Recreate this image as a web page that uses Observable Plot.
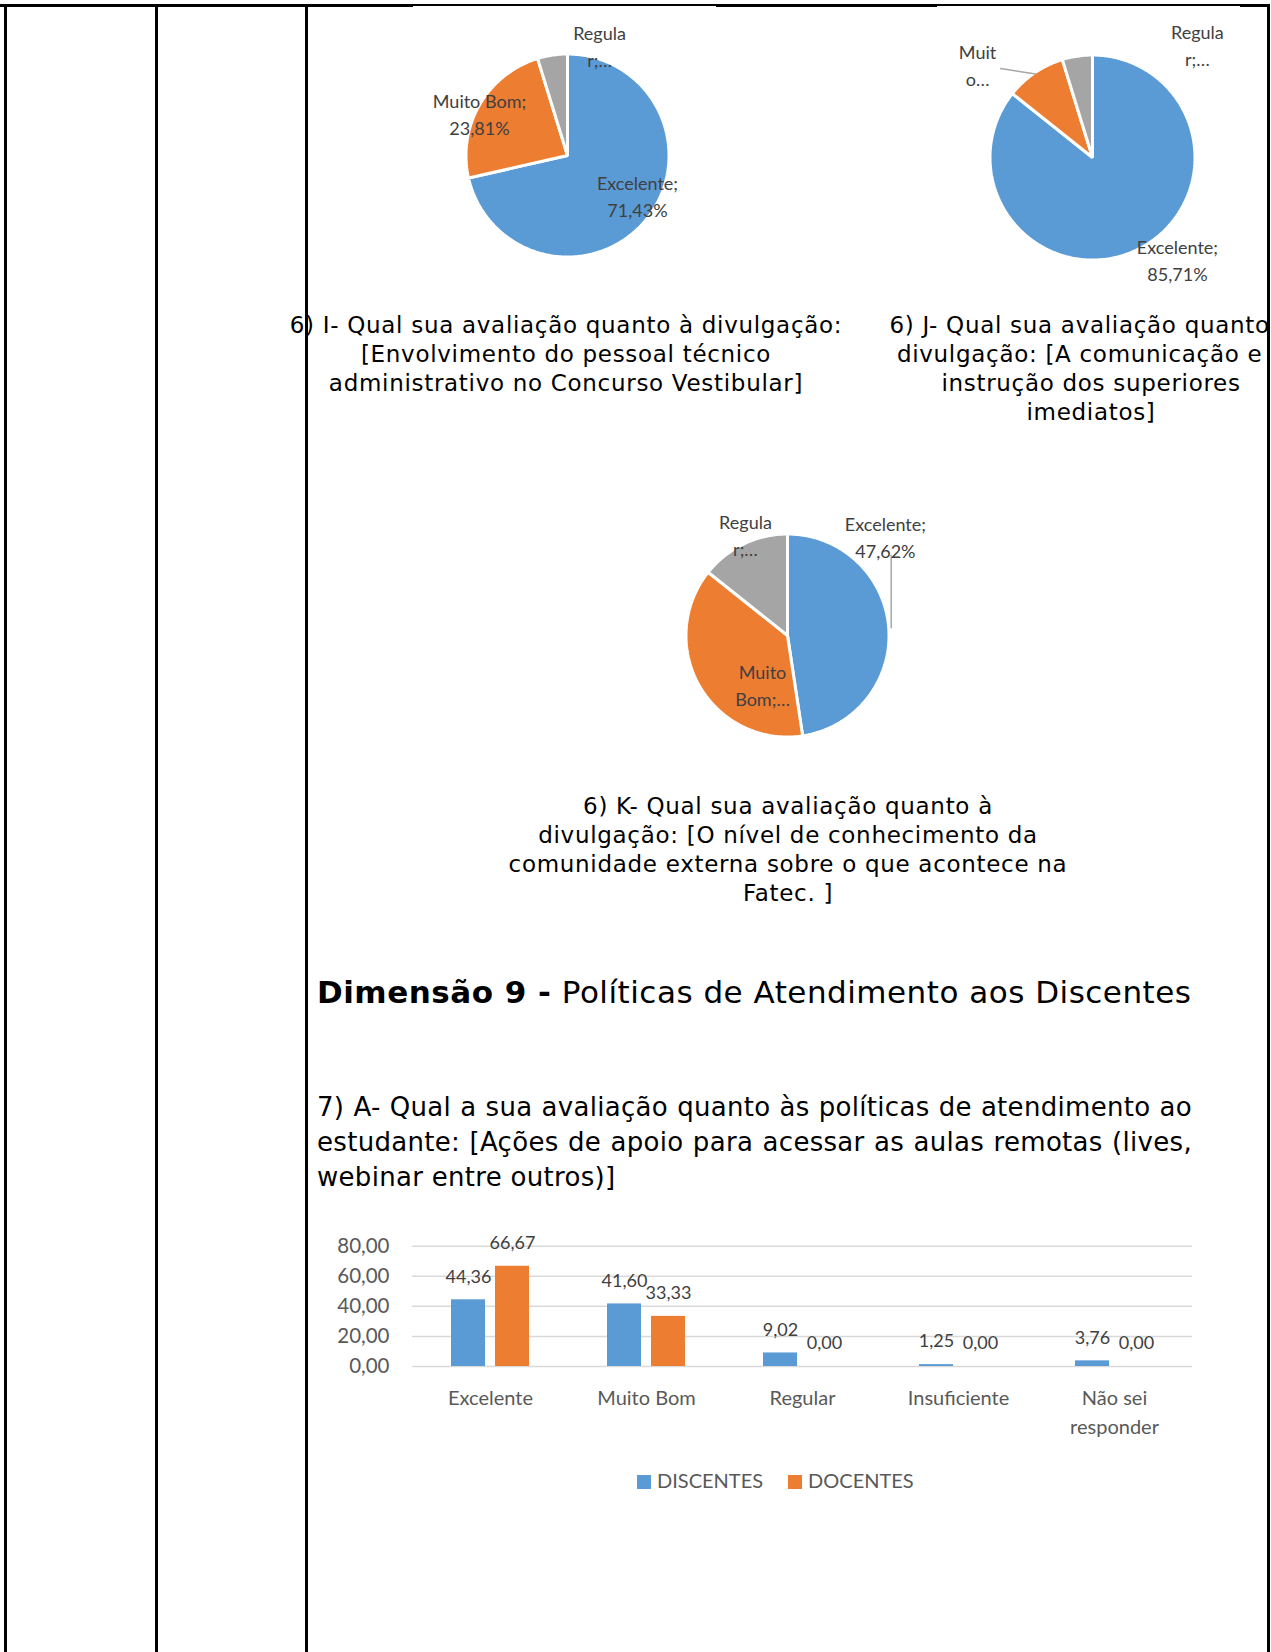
<!DOCTYPE html>
<html>
<head>
<meta charset="utf-8">
<script src="https://cdn.jsdelivr.net/npm/d3@7"></script>
<script src="https://cdn.jsdelivr.net/npm/@observablehq/plot@0.6"></script>
<style>
  html, body { margin: 0; padding: 0; background: #fff; }
  #page { position: relative; width: 1271px; height: 1652px; overflow: hidden; background: #fff; }
  .ln { position: absolute; background: #000; }
  .doc { position: absolute; font-family: "DejaVu Sans", Verdana, sans-serif; color: #000; white-space: nowrap; }
  .cap { font-size: 23px; letter-spacing: 0.7px; line-height: 29px; text-align: center; width: 640px; }
  .abs { position: absolute; }
  .abs svg { overflow: visible; }
  #legend { position: absolute; left: 637px; top: 1467px; font-family: Lato, sans-serif; font-size: 20px; color: #595959; white-space: nowrap; line-height: 26px; }
  #legend span.sw { display: inline-block; width: 14px; height: 14px; vertical-align: -1px; margin-right: 6px; }
  #para { font-size: 26px; letter-spacing: 0.3px; line-height: 35px; }
  #para span { display: block; text-align: justify; text-align-last: justify; white-space: nowrap; }
  #para span.last { text-align-last: left; }
</style>
</head>
<body>
<div id="page">
  <!-- table borders -->
  <div class="ln" style="left:0;top:4px;width:1270px;height:2px"></div>
  <div class="ln" style="left:0;top:4px;width:413px;height:3px"></div>
  <div class="ln" style="left:716px;top:4px;width:221px;height:3px"></div>
  <div class="ln" style="left:1240px;top:4px;width:30px;height:3px"></div>
  <div class="ln" style="left:4px;top:4px;width:3px;height:1648px"></div>
  <div class="ln" style="left:155px;top:4px;width:3px;height:1648px"></div>
  <div class="ln" style="left:305px;top:4px;width:3px;height:1648px"></div>

  <div id="pieI" class="abs" style="left:417px;top:5px"></div>
  <div id="pieJ" class="abs" style="left:942px;top:7px"></div>
  <div id="pieK" class="abs" style="left:637px;top:485px"></div>

  <div class="doc cap" style="left:246px;top:311px">6) I- Qual sua avaliação quanto à divulgação:<br>[Envolvimento do pessoal técnico<br>administrativo no Concurso Vestibular]</div>
  <div class="doc cap" style="left:771px;top:311px;clip-path:inset(0 144px 0 0)">6) J- Qual sua avaliação quanto à<br>divulgação: [A comunicação e a<br>instrução dos superiores<br>imediatos]</div>
  <div class="doc cap" style="left:468px;top:792px">6) K- Qual sua avaliação quanto à<br>divulgação: [O nível de conhecimento da<br>comunidade externa sobre o que acontece na<br>Fatec. ]</div>

  <div class="doc" style="left:317px;top:972px;font-size:31px;letter-spacing:0.5px;line-height:40px"><b>Dimensão 9 -</b> Políticas de Atendimento aos Discentes</div>

  <div id="para" class="doc" style="left:317px;top:1090px;width:875px;white-space:normal">
    <span>7) A- Qual a sua avaliação quanto às políticas de atendimento ao</span>
    <span>estudante: [Ações de apoio para acessar as aulas remotas (lives,</span>
    <span class="last">webinar entre outros)]</span>
  </div>

  <div id="bars" class="abs" style="left:300px;top:1225px"></div>
  <div id="legend"></div>

  <div class="ln" style="left:1267px;top:4px;width:3px;height:1648px"></div>
</div>
<script>
// ---------- data ----------
const pieCats = ["Excelente", "Muito Bom", "Regular"];
const pieColors = ["#5B9BD5", "#ED7D31", "#A5A5A5"];

const pieIValues = [71.43, 23.81, 4.76];
const pieJValues = [85.71, 9.52, 4.76];
const pieKValues = [47.62, 38.10, 14.29];

const pieILabels = ["Excelente;\n71,43%", "Muito Bom;\n23,81%", "Regula\nr;…"];
const pieJLabels = ["Excelente;\n85,71%", "Muit\no…", "Regula\nr;…"];
const pieKLabels = ["Excelente;\n47,62%", "Muito\nBom;…", "Regula\nr;…"];

const barCats = ["Excelente", "Muito Bom", "Regular", "Insuficiente", "Não sei responder"];
const barSeries = ["DISCENTES", "DOCENTES"];
const discentes = [44.36, 41.60, 9.02, 1.25, 3.76];
const docentes = [66.67, 33.33, 0.00, 0.00, 0.00];
const yTicks = [0, 20, 40, 60, 80];
const barColors = ["#5B9BD5", "#ED7D31"];

// ---------- helpers ----------
const rad = d => d * Math.PI / 180;
const polar = (angDeg, r) => ({x: r * Math.sin(rad(angDeg)), y: r * Math.cos(rad(angDeg))});
const comma = (v, n) => v.toFixed(n).replace(".", ",");

function drawPie(el, values, labels, R, labelLayout, leaders) {
  const total = d3.sum(values);
  let acc = 0;
  const slices = values.map((v, i) => {
    const a0 = acc / total * 360; acc += v; const a1 = acc / total * 360;
    return {cat: pieCats[i], a0, a1, mid: (a0 + a1) / 2};
  });
  const pts = slices.flatMap(s => {
    const n = Math.max(2, Math.ceil((s.a1 - s.a0) / 1));
    const arr = [{cat: s.cat, x: 0, y: 0}];
    for (let k = 0; k <= n; k++) {
      const p = polar(s.a0 + (s.a1 - s.a0) * k / n, R);
      arr.push({cat: s.cat, x: p.x, y: p.y});
    }
    return arr;
  });
  const labelData = slices.map((s, i) => {
    const [ang, r] = labelLayout[i];
    const p = polar(ang, r);
    return {x: p.x, y: p.y, text: labels[i]};
  });
  const leaderData = leaders.flatMap(([i, r0, ang1, r1, vertical]) => {
    const s = slices[i];
    const a = polar(s.mid, r0);
    const b = polar(ang1, r1);
    return [{id: i, x: a.x, y: a.y}, {id: i, x: vertical ? a.x : b.x, y: b.y}];
  });
  const chart = Plot.plot({
    width: 300, height: 300, margin: 0,
    style: {fontFamily: "Lato, sans-serif", background: "transparent", overflow: "visible"},
    x: {domain: [-150, 150], axis: null},
    y: {domain: [-150, 150], axis: null},
    color: {domain: pieCats, range: pieColors},
    marks: [
      Plot.line(pts, {x: "x", y: "y", z: "cat", fill: "cat", stroke: "white", strokeWidth: 3, curve: "linear-closed", strokeLinejoin: "miter"}),
      Plot.line(leaderData, {x: "x", y: "y", z: "id", stroke: "#A6A6A6", strokeWidth: 1.5}),
      Plot.text(labelData, {x: "x", y: "y", text: "text", fontSize: 18, fill: "#404040", lineHeight: 1.5, dy: -3})
    ]
  });
  document.getElementById(el).appendChild(chart);
}

// label layout: [angle clockwise from top (deg), radius px] per slice
drawPie("pieI", pieIValues, pieILabels, 101.5,
  [[121.3, 81.9], [294.2, 96.5], [16.6, 112.2]], []);
drawPie("pieJ", pieJValues, pieJLabels, 102.5,
  [[140.9, 134.7], [308.2, 146.3], [43.5, 152.4]],
  [[1, 101, 314.1, 128, false]]);
drawPie("pieK", pieKValues, pieKLabels, 101.5,
  [[45.4, 137.5], [205.9, 57.2], [336.9, 107.1]],
  [[0, 104, 52.4, 131.2, true]]);

// ---------- bar chart ----------
const barData = barCats.flatMap((c, i) => [
  {cat: c, series: barSeries[0], value: discentes[i]},
  {cat: c, series: barSeries[1], value: docentes[i]}
]);

const bars = Plot.plot({
  width: 910, height: 230,
  marginLeft: 110, marginRight: 17, marginTop: 20.7, marginBottom: 89,
  style: {fontFamily: "Lato, sans-serif", background: "transparent", overflow: "visible"},
  fx: {domain: barCats, padding: 0},
  x: {domain: barSeries, paddingInner: 0.222, paddingOuter: 0.851, axis: null},
  y: {domain: [0, 80]},
  color: {domain: barSeries, range: barColors},
  marks: [
    Plot.ruleY(yTicks, {stroke: "#D9D9D9", strokeWidth: 1.5}),
    Plot.barY(barData, {fx: "cat", x: "series", y: "value", fill: "series"}),
    Plot.text(barData, {fx: "cat", x: "series", y: "value", text: d => comma(d.value, 2), dy: -23, fontSize: 18, fill: "#404040"}),
    Plot.axisY({ticks: yTicks, tickSize: 0, tickPadding: 23, fontSize: 20.5, fill: "#595959", tickFormat: d => comma(d, 2), label: null}),
    Plot.axisFx({anchor: "bottom", tickSize: 0, tickPadding: 18, fontSize: 20, fill: "#595959", lineHeight: 1.45,
      tickFormat: d => d.replace(" responder", "\nresponder"), label: null})
  ]
});
document.getElementById("bars").appendChild(bars);

// legend
const legend = document.getElementById("legend");
barSeries.forEach((s, i) => {
  const item = document.createElement("span");
  item.style.marginRight = i === 0 ? "25px" : "0";
  item.innerHTML = `<span class="sw" style="background:${barColors[i]}"></span>${s}`;
  legend.appendChild(item);
});
</script>
</body>
</html>
